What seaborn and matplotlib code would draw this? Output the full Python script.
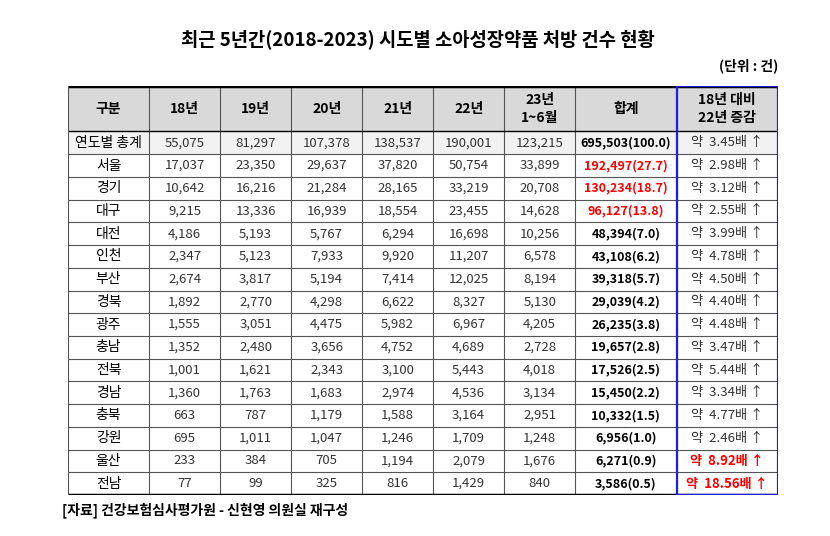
import numpy as np
import matplotlib.pyplot as plt
import seaborn as sns
from matplotlib.colors import ListedColormap

sns.set_style("white")
plt.rcParams['font.family'] = ['Noto Sans CJK KR', 'Noto Sans CJK JP', 'Noto Sans CJK SC',
                               'Noto Sans CJK TC', 'DejaVu Sans']
plt.rcParams['text.color'] = 'black'

# data
headers = ['구분', '18년', '19년', '20년', '21년', '22년', '23년\n1~6월', '합계', '18년 대비\n22년 증감']
regions = ['연도별 총계', '서울', '경기', '대구', '대전', '인천', '부산', '경북', '광주',
           '충남', '전북', '경남', '충북', '강원', '울산', '전남']
y18 = [55075, 17037, 10642, 9215, 4186, 2347, 2674, 1892, 1555, 1352, 1001, 1360, 663, 695, 233, 77]
y19 = [81297, 23350, 16216, 13336, 5193, 5123, 3817, 2770, 3051, 2480, 1621, 1763, 787, 1011, 384, 99]
y20 = [107378, 29637, 21284, 16939, 5767, 7933, 5194, 4298, 4475, 3656, 2343, 1683, 1179, 1047, 705, 325]
y21 = [138537, 37820, 28165, 18554, 6294, 9920, 7414, 6622, 5982, 4752, 3100, 2974, 1588, 1246, 1194, 816]
y22 = [190001, 50754, 33219, 23455, 16698, 11207, 12025, 8327, 6967, 4689, 5443, 4536, 3164, 1709, 2079, 1429]
y23 = [123215, 33899, 20708, 14628, 10256, 6578, 8194, 5130, 4205, 2728, 4018, 3134, 2951, 1248, 1676, 840]
totals = [695503, 192497, 130234, 96127, 48394, 43108, 39318, 29039, 26235, 19657, 17526, 15450,
          10332, 6956, 6271, 3586]
shares = [100.0, 27.7, 18.7, 13.8, 7.0, 6.2, 5.7, 4.2, 3.8, 2.8, 2.5, 2.2, 1.5, 1.0, 0.9, 0.5]
ratios = [3.45, 2.98, 3.12, 2.55, 3.99, 4.78, 4.50, 4.40, 4.48, 3.47, 5.44, 3.34, 4.77, 2.46, 8.92, 18.56]
red_total = ['서울', '경기', '대구']
red_ratio = ['울산', '전남']

# column widths in grid units, header = 2 rows
col_units = [8, 7, 7, 7, 7, 7, 7, 10, 10]
edges = np.concatenate([[0], np.cumsum(col_units)])
n_rows = 2 + len(regions)

# background code: 0 white, 1 header grey, 2 total row light grey
bg = np.zeros((n_rows, edges[-1]))
bg[0:2, :] = 1
bg[2, :] = 2

fig = plt.figure(figsize=(8.3, 5.36), dpi=100)
ax = fig.add_axes([68 / 830, 41 / 536, 710 / 830, 409 / 536])
sns.heatmap(bg, ax=ax, cmap=ListedColormap(['white', '#d9d9d9', '#f2f2f2']),
            vmin=0, vmax=2, cbar=False, xticklabels=False, yticklabels=False)
ax.set_xlim(0, edges[-1])
ax.set_ylim(n_rows, 0)

# grid lines
for e in edges[1:-1]:
    ax.plot([e, e], [0, n_rows], color='#555555', lw=0.8)
for r in range(3, n_rows):
    ax.plot([0, edges[-1]], [r, r], color='#555555', lw=0.8)
ax.plot([0, edges[-1]], [2, 2], color='black', lw=1.0)
ax.plot([0, edges[-1]], [0, 0], color='black', lw=2.5)
ax.plot([0, edges[-1]], [n_rows, n_rows], color='black', lw=2.5)
ax.plot([0, 0], [0, n_rows], color='#555555', lw=0.8)
# blue frame on last column
x0, x1 = edges[-2], edges[-1]
ax.plot([x0, x1, x1, x0, x0], [0, 0, n_rows, n_rows, 0], color='#1f1fe0', lw=1.6)
for s in ax.spines.values():
    s.set_visible(False)

centers = (edges[:-1] + edges[1:]) / 2
for j, h in enumerate(headers):
    ax.text(centers[j], 1, h, ha='center', va='center', fontsize=10,
            fontweight='bold', linespacing=1.4)

for i, reg in enumerate(regions):
    yc = 2 + i + 0.5
    vals = [y18[i], y19[i], y20[i], y21[i], y22[i], y23[i]]
    ax.text(centers[0], yc, reg, ha='center', va='center', fontsize=10)
    for j, v in enumerate(vals):
        ax.text(centers[j + 1], yc, f'{v:,}', ha='center', va='center', fontsize=9.5,
                color='#333333')
    ax.text(centers[7], yc, f'{totals[i]:,}({shares[i]:.1f})', ha='center', va='center',
            fontsize=9, fontweight='bold',
            color='red' if reg in red_total else 'black')
    if reg in red_ratio:
        ax.text(centers[8], yc, f'약  {ratios[i]:.2f}배 ↑', ha='center', va='center',
                fontsize=9.5, fontweight='bold', color='red')
    else:
        ax.text(centers[8], yc, f'약  {ratios[i]:.2f}배 ↑', ha='center', va='center',
                fontsize=9.5, color='#333333')

fig.text(418 / 830, 1 - 40 / 536, '최근 5년간(2018-2023) 시도별 소아성장약품 처방 건수 현황',
         ha='center', va='center', fontsize=13.5, fontweight='bold')
fig.text(778 / 830, 1 - 66 / 536, '(단위 : 건)', ha='right', va='center',
         fontsize=10, fontweight='bold')
fig.text(62 / 830, 1 - 510 / 536, '[자료] 건강보험심사평가원 - 신현영 의원실 재구성',
         ha='left', va='center', fontsize=10, fontweight='bold')

fig.savefig('out.png', dpi=100)
